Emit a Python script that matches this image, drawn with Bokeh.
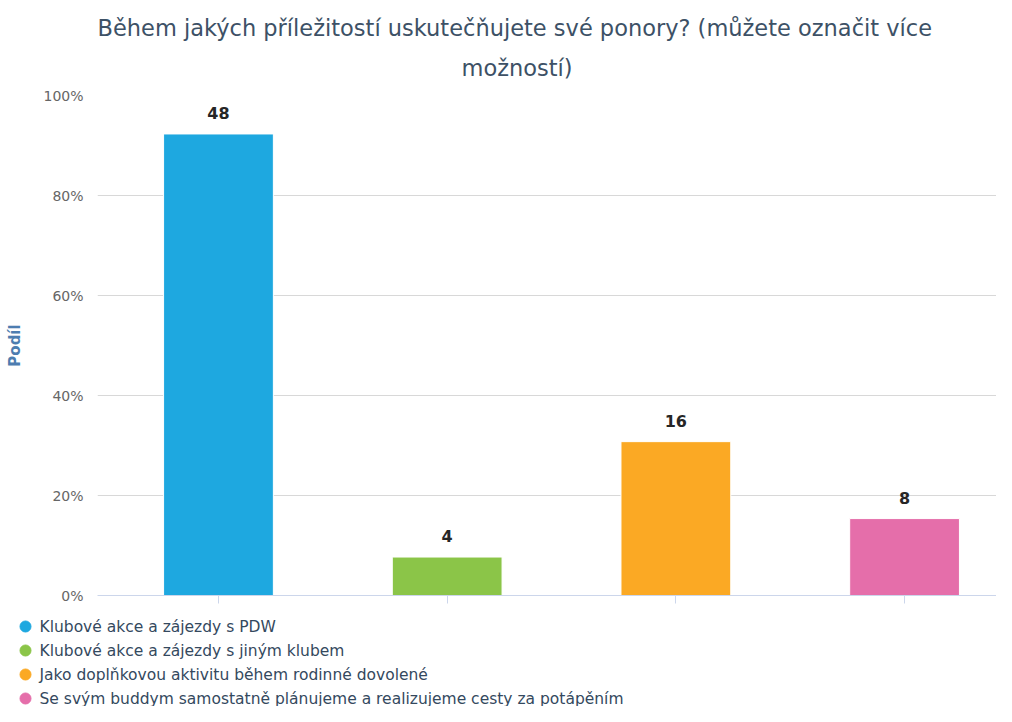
from bokeh.plotting import figure
from bokeh.models import (ColumnDataSource, FixedTicker, PrintfTickFormatter, Title, Range1d)
from bokeh.layouts import column
from bokeh.core.properties import value
from bokeh.embed import file_html
from bokeh.resources import INLINE

# ---- data ----
title_line1 = "Během jakých příležitostí uskutečňujete své ponory? (můžete označit více"
title_line2 = "možností)"
categories = [
    "Klubové akce a zájezdy s PDW",
    "Klubové akce a zájezdy s jiným klubem",
    "Jako doplňkovou aktivitu během rodinné dovolené",
    "Se svým buddym samostatně plánujeme a realizujeme cesty za potápěním",
]
counts = [48, 4, 16, 8]
respondents = 52
colors = ["#1ea8e0", "#8bc548", "#fba924", "#e56eaa"]
y_ticks = [0, 20, 40, 60, 80, 100]
y_axis_label = "Podíl"

pct = [c / respondents * 100 for c in counts]
idx = list(range(len(categories)))

FONT = "DejaVu Sans"

src = ColumnDataSource(dict(x=idx, top=pct, color=colors,
                            label=[str(c) for c in counts]))

MAIN_H = 615
p = figure(width=996, height=MAIN_H, output_backend="svg", toolbar_location=None,
           x_range=Range1d(-0.529, 3.402), y_range=Range1d(0, 100),
           min_border_left=97, min_border_right=0, min_border_top=95,
           min_border_bottom=MAIN_H - 595)
p.outline_line_color = None
p.frame_align = False

p.vbar(x="x", top="top", width=0.48, color="color", line_color="white",
       line_width=1, source=src)
p.text(x="x", y="top", text="label", source=src, text_align="center",
       text_baseline="bottom", y_offset=-15, text_font=value(FONT),
       text_font_size="16px", text_font_style="bold", text_color="#262626")

# titles (inner one added first)
t2 = Title(text=title_line2, align="left", offset=364,
           text_font=FONT, text_font_size="22.5px", text_font_style="normal",
           text_color="#3d5166", standoff=29)
t1 = Title(text=title_line1, align="left", offset=0,
           text_font=FONT, text_font_size="22.5px", text_font_style="normal",
           text_color="#3d5166", standoff=-4)
p.add_layout(t2, "above")
p.add_layout(t1, "above")

# y axis
p.yaxis.ticker = FixedTicker(ticks=y_ticks)
p.yaxis.formatter = PrintfTickFormatter(format="%d%%")
p.yaxis.axis_line_color = None
p.yaxis.major_tick_line_color = None
p.yaxis.minor_tick_line_color = None
p.yaxis.major_tick_out = 0
p.yaxis.major_label_standoff = 14
p.yaxis.major_label_text_font = FONT
p.yaxis.major_label_text_font_size = "14px"
p.yaxis.major_label_text_color = "#666666"
p.yaxis.axis_label = y_axis_label
p.yaxis.axis_label_text_font = FONT
p.yaxis.axis_label_text_font_size = "15px"
p.yaxis.axis_label_text_font_style = "bold"
p.yaxis.axis_label_text_color = "#4d7db0"
p.yaxis.axis_label_standoff = 16

p.ygrid.grid_line_color = "#d8d8d8"
p.ygrid.ticker = FixedTicker(ticks=y_ticks)
p.xgrid.grid_line_color = None

# x axis
p.xaxis.ticker = FixedTicker(ticks=idx)
p.xaxis.major_label_overrides = {i: "" for i in idx}
p.xaxis.axis_line_color = "#ccd6eb"
p.xaxis.major_tick_line_color = "#ccd6eb"
p.xaxis.major_tick_out = 8
p.xaxis.major_tick_in = 0
p.xaxis.minor_tick_line_color = None

# legend figure
n = len(categories)
leg_h = 706 - MAIN_H
lg = figure(width=996, height=leg_h, output_backend="svg", toolbar_location=None,
            x_range=Range1d(0, 996), y_range=Range1d(leg_h, 0),
            min_border=0, x_axis_type=None, y_axis_type=None)
lg.outline_line_color = None
lg.grid.visible = False
lg.frame_align = False
row_y = [626 - MAIN_H + 24 * i for i in range(n)]
lsrc = ColumnDataSource(dict(y=row_y, cat=categories, color=colors,
                             dx=[25] * n, tx=[39] * n))
lg.scatter(x="dx", y="y", size=11, color="color", source=lsrc)
lg.text(x="tx", y="y", text="cat", source=lsrc, text_baseline="middle",
        text_font=value(FONT), text_font_size="15.5px", text_color="#34495e")

layout = column(p, lg, spacing=0)
open("out.html", "w").write(file_html(layout, INLINE))
